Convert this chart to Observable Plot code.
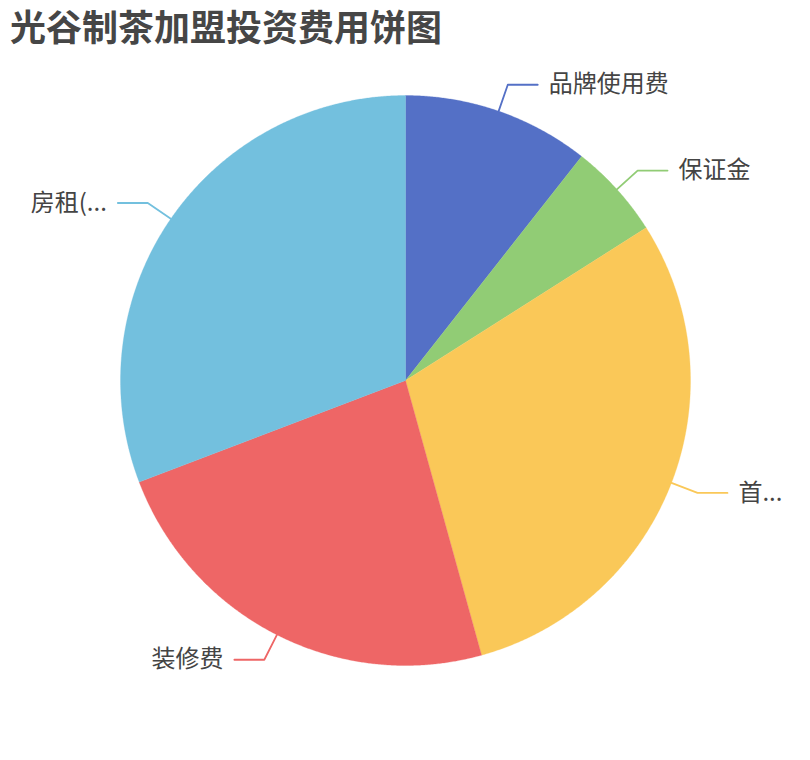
<!DOCTYPE html>
<html><head><meta charset="utf-8">
<script src="https://cdn.jsdelivr.net/npm/d3@7"></script>
<script src="https://cdn.jsdelivr.net/npm/@observablehq/plot@0.6"></script>
<style>
body{margin:0;background:#fff;font-family:"Noto Sans CJK SC","Noto Sans",sans-serif;}
#title{height:50px;padding-left:10px;font-size:36px;font-weight:bold;color:#464646;line-height:50px;white-space:nowrap;}
</style></head><body>
<div id="title">光谷制茶加盟投资费用饼图</div>
<div id="chart"></div>
<script>
const names = ["品牌使用费", "保证金", "首...", "装修费", "房租(..."];
const values = [10.6, 5.4, 29.7, 23.5, 30.8];
const colors = ["#5470c6", "#91cc75", "#fac858", "#ee6666", "#73c0de"];

const rows = names.map((name, i) => ({name, value: values[i]}));
const arcs = d3.pie().sort(null).value(d => d.value)(rows);

// slice polygons in unit coordinates (angle clockwise from 12 o'clock)
const slicePts = [];
for (const a of arcs) {
  const name = a.data.name;
  slicePts.push({name, x: 0, y: 0});
  const n = Math.max(2, Math.ceil((a.endAngle - a.startAngle) / 0.005));
  for (let k = 0; k <= n; k++) {
    const t = a.startAngle + (a.endAngle - a.startAngle) * k / n;
    slicePts.push({name, x: Math.sin(t), y: Math.cos(t)});
  }
  slicePts.push({name, x: 0, y: 0});
}

// leader lines and labels
const L1 = 0.098, L2 = 0.105;
const leaderPts = [];
const labels = [];
for (const a of arcs) {
  const name = a.data.name;
  const m = (a.startAngle + a.endAngle) / 2;
  const sx = Math.sin(m), sy = Math.cos(m);
  const side = sx >= 0 ? 1 : -1;
  const ex = sx * (1 + L1), ey = sy * (1 + L1);
  leaderPts.push({name, x: sx, y: sy});
  leaderPts.push({name, x: ex, y: ey});
  leaderPts.push({name, x: ex + side * L2, y: ey});
  labels.push({name, x: ex + side * L2, y: ey, side});
}

const R = 285, CX = 405, CY = 330;
const chart = Plot.plot({
  width: 810,
  height: 710,
  margin: 0,
  style: {fontFamily: '"Noto Sans CJK SC","Noto Sans",sans-serif', background: "#fff"},
  x: {domain: [-1, 1], range: [CX - R, CX + R], axis: null},
  y: {domain: [-1, 1], range: [CY + R, CY - R], axis: null},
  color: {domain: names, range: colors},
  marks: [
    Plot.line(slicePts, {x: "x", y: "y", z: "name", fill: "name", stroke: "name", strokeWidth: 0.3, curve: "linear"}),
    Plot.line(leaderPts, {x: "x", y: "y", z: "name", stroke: "name", strokeWidth: 1.8, curve: "linear"}),
    Plot.text(labels.filter(d => d.side > 0), {x: "x", y: "y", text: "name", textAnchor: "start", dx: 11, fontSize: 24, fill: "#444"}),
    Plot.text(labels.filter(d => d.side < 0), {x: "x", y: "y", text: "name", textAnchor: "end", dx: -11, fontSize: 24, fill: "#444"})
  ]
});
document.getElementById("chart").appendChild(chart);
</script>
</body></html>
